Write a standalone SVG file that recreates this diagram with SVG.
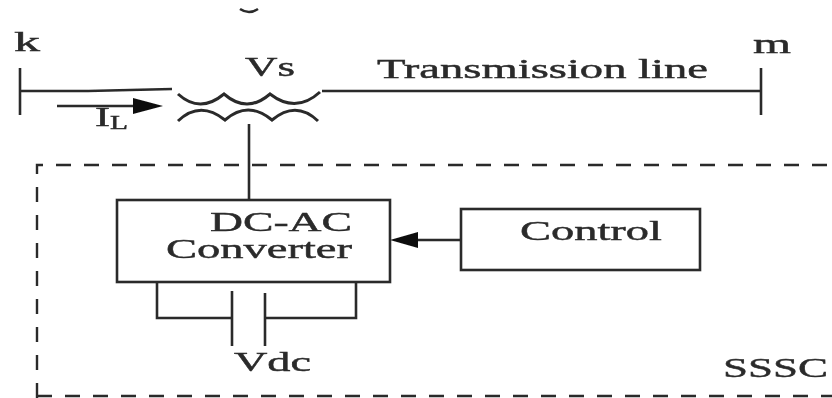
<svg xmlns="http://www.w3.org/2000/svg" width="832" height="398" viewBox="0 0 832 398">
<defs>
<style>
text{font-family:"Liberation Serif","Times New Roman",serif;fill:#2a2a2a;stroke:#2a2a2a;stroke-width:0.45;font-size:28px}
.l{fill:none;stroke:#2a2a2a;stroke-width:2.6}
.c{fill:none;stroke:#2a2a2a;stroke-width:3}
.b{fill:#fff;stroke:#2a2a2a;stroke-width:2.6}
.d{fill:none;stroke:#2a2a2a;stroke-width:2.4;stroke-dasharray:15 13}
.a{fill:#111;stroke:none}
</style>
<filter id="s" x="-5%" y="-5%" width="110%" height="110%"><feGaussianBlur stdDeviation="0.6"/></filter>
</defs>
<rect width="832" height="398" fill="#fff"/>
<g filter="url(#s)">
<g id="boundary"><path class="d" d="M37 398V165H832"/><path class="d" d="M37 396H832"/></g>
<path class="l" d="M240 9Q249 15 258 9"/>
<g id="connectors">
<path class="l" d="M20 68V115M20 91L88 91L172 89"/>
<path class="l" d="M322 91H761M761 68V115"/>
<path class="l" d="M57 106H135"/><path class="a" d="M133 98L163 106L133 114Z"/>
<path class="l" d="M249 124V200"/>
<path class="l" d="M461 240H415"/><path class="a" d="M418 232L390 240L418 248Z"/>
<path class="l" d="M157 282V318H232M265 318H356V282"/>
<path class="l" d="M232 291V346M265 293V346"/>
</g>
<g id="coil-top"><path class="c" d="M178 94Q200 114 224 94Q247 114 270 94Q296 114 320 92"/></g>
<g id="coil-bottom"><path class="c" d="M178 121Q200 100 225 120Q248 100 272 120Q296 100 318 121"/></g>
<g id="converter"><rect class="b" x="117" y="200" width="273" height="82"/>
<text x="210" y="231" textLength="142" lengthAdjust="spacingAndGlyphs">DC-AC</text>
<text x="166" y="258" textLength="186" lengthAdjust="spacingAndGlyphs">Converter</text></g>
<g id="control"><rect class="b" x="461" y="209" width="239" height="61"/>
<text x="520" y="240" textLength="142" lengthAdjust="spacingAndGlyphs">Control</text></g>
<g id="labels">
<text x="14" y="51" textLength="26" lengthAdjust="spacingAndGlyphs">k</text>
<text x="245" y="76" textLength="50" lengthAdjust="spacingAndGlyphs">Vs</text>
<text x="377" y="78" textLength="331" lengthAdjust="spacingAndGlyphs">Transmission line</text>
<text x="753" y="53" textLength="38" lengthAdjust="spacingAndGlyphs">m</text>
<text x="95" y="126" textLength="15" lengthAdjust="spacingAndGlyphs">I</text>
<text x="110" y="129" textLength="18" lengthAdjust="spacingAndGlyphs" style="font-size:19px">L</text>
<text x="234" y="371" textLength="77" lengthAdjust="spacingAndGlyphs">Vdc</text>
<text x="723" y="377" textLength="105" lengthAdjust="spacingAndGlyphs">SSSC</text>
</g>
</g>
</svg>
